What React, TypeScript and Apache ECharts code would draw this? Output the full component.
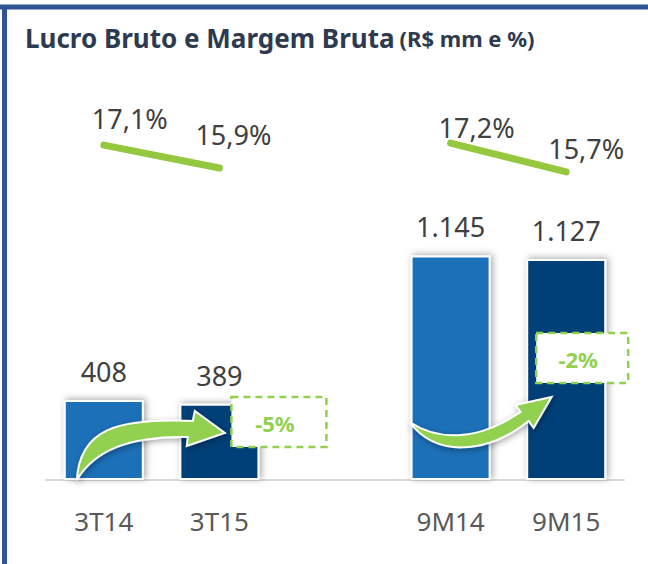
import React, { useEffect, useRef } from "react";
import * as echarts from "echarts";

// ---- data ----
const categories = ["3T14", "3T15", "9M14", "9M15"];
const lucroBruto = [408, 389, 1145, 1127];
const margemBruta = [17.1, 15.9, 17.2, 15.7];
const margemLabels = ["17,1%", "15,9%", "17,2%", "15,7%"];
const variacaoLabels = ["-5%", "-2%"];
const titleMain = "Lucro Bruto e Margem Bruta";
const titleSub = "(R$ mm e %)";

// ---- annotation shapes (local coords relative to an anchor) ----
const arrow1D =
  "M-27,0 C-24,-50 11,-62 89,-59 L91,-69 L121,-47 L83,-34 L84,-43 C26,-44 -9,-30 -27,0 Z";
const arrow2D =
  "M-41,-58 C-11,-38 29,-40 70,-68 L65,-75 L101,-83 L83,-52 L78,-59 C34,-24 -16,-24 -41,-58 Z";
echarts.graphic.registerShape("arrowA", echarts.graphic.extendPath(arrow1D, {}));
echarts.graphic.registerShape("arrowB", echarts.graphic.extendPath(arrow2D, {}));

const FONT = "Noto Sans";
const GREEN = "#92d050";
const LINE_GREEN = "#93c83f";
const LIGHT_BLUE = "#1b70b8";
const DARK_BLUE = "#013f78";

export default function App() {
  const ref = useRef<HTMLDivElement>(null);
  useEffect(() => {
    if (!ref.current) return;
    const chart = echarts.init(ref.current, null, { renderer: "svg" });
    const axisCats = [categories[0], categories[1], "", categories[2], categories[3]];
    const barData = [lucroBruto[0], lucroBruto[1], null, lucroBruto[2], lucroBruto[3]].map(
      (v, i) =>
        v === null
          ? null
          : {
              value: v,
              itemStyle: { color: i === 0 || i === 3 ? LIGHT_BLUE : DARK_BLUE },
            }
    );
    const labelOffsets = [
      [26, -27],
      [14, -34],
      [26, -16],
      [20, -23],
    ];
    const mkPoint = (k: number) => ({
      value: margemBruta[k],
      label: {
        show: true,
        position: "inside",
        offset: labelOffsets[k],
        formatter: margemLabels[k],
      },
    });
    const lineA = [mkPoint(0), mkPoint(1), null, null, null];
    const lineB = [null, null, null, mkPoint(2), mkPoint(3)];
    const lineCommon = {
      type: "line",
      yAxisIndex: 1,
      symbol: "circle",
      symbolSize: 1,
      showSymbol: true,
      itemStyle: { color: "rgba(0,0,0,0)" },
      lineStyle: { color: LINE_GREEN, width: 7, cap: "round" },
      label: { fontFamily: FONT, fontSize: 27, color: "#404040" },
      z: 5,
    };

    chart.setOption({
      animation: false,
      backgroundColor: "#ffffff",
      title: {
        text: `{a|${titleMain}} {b|${titleSub}}`,
        left: 20,
        top: 20,
        textStyle: {
          rich: {
            a: { fontFamily: FONT, fontWeight: "bold", fontSize: 26, color: "#2d3a50" },
            b: { fontFamily: FONT, fontWeight: "bold", fontSize: 22, color: "#2d3a50" },
          },
        },
      },
      grid: { left: 46, right: 24, top: 80, bottom: 84 },
      xAxis: {
        type: "category",
        data: axisCats,
        axisLine: { show: true, lineStyle: { color: "#d9d9d9", width: 2 } },
        axisTick: { show: false },
        axisLabel: { fontFamily: FONT, fontSize: 26, color: "#595959", margin: 28 },
      },
      yAxis: [
        { type: "value", min: 0, max: 2040, show: false, splitLine: { show: false } },
        { type: "value", min: -0.4, max: 20.5, show: false, splitLine: { show: false } },
      ],
      series: [
        {
          type: "bar",
          data: barData,
          barWidth: 80,
          itemStyle: {
            borderColor: "#ffffff",
            borderWidth: 2,
            shadowBlur: 7,
            shadowColor: "rgba(0,0,0,0.35)",
            shadowOffsetX: 2,
            shadowOffsetY: -1,
          },
          label: {
            show: true,
            position: "top",
            distance: 15,
            fontFamily: FONT,
            fontSize: 27,
            color: "#404040",
            formatter: (p: any) => (p.value >= 1000 ? echarts.format.addCommas(p.value).replace(",", ".") : String(p.value)),
          },
        },
        { ...lineCommon, data: lineA },
        { ...lineCommon, data: lineB },
      ],
    });

    const px = (idx: number, v: number) =>
      chart.convertToPixel({ xAxisIndex: 0, yAxisIndex: 0 }, [idx, v]) as number[];
    const a1 = px(0, 0);
    const a2 = px(3, 0);
    const b1 = px(1, 0);
    const b2 = px(4, 0);
    const arrowStyle = {
      fill: GREEN,
      stroke: "#ffffff",
      lineWidth: 2,
      shadowBlur: 6,
      shadowColor: "rgba(0,0,0,0.35)",
      shadowOffsetX: 1,
      shadowOffsetY: 2,
    };
    const box = (x: number, y: number, w: number, h: number, txt: string) => [
      {
        type: "rect",
        z: 40,
        shape: { x, y, width: w, height: h },
        style: { fill: "#ffffff", stroke: GREEN, lineWidth: 2.5, lineDash: [7, 5] },
      },
      {
        type: "text",
        z: 41,
        x: x + w / 2 - 4,
        y: y + h / 2 + 1,
        style: {
          text: txt,
          fill: GREEN,
          font: `bold 22px "${FONT}"`,
          align: "center",
          verticalAlign: "middle",
        },
      },
    ];

    chart.setOption({
      graphic: [
        {
          type: "line",
          shape: { x1: 0, y1: 7, x2: 648, y2: 7 },
          style: { stroke: "#2f5597", lineWidth: 5 },
          z: 50,
        },
        {
          type: "line",
          shape: { x1: 4.5, y1: 5, x2: 4.5, y2: 564 },
          style: { stroke: "#2f5597", lineWidth: 5 },
          z: 50,
        },
        { type: "arrowA", x: a1[0], y: a1[1], style: arrowStyle, z: 30 },
        { type: "arrowB", x: a2[0], y: a2[1], style: arrowStyle, z: 30 },
        ...box(b1[0] + 12, b1[1] - 83, 95, 50, variacaoLabels[0]),
        ...box(b2[0] - 30, b2[1] - 147, 92, 50, variacaoLabels[1]),
      ],
    });

    return () => chart.dispose();
  }, []);

  return (
    <div
      ref={ref}
      style={{ position: "fixed", left: 0, top: 0, width: 648, height: 564, background: "#fff" }}
    />
  );
}
